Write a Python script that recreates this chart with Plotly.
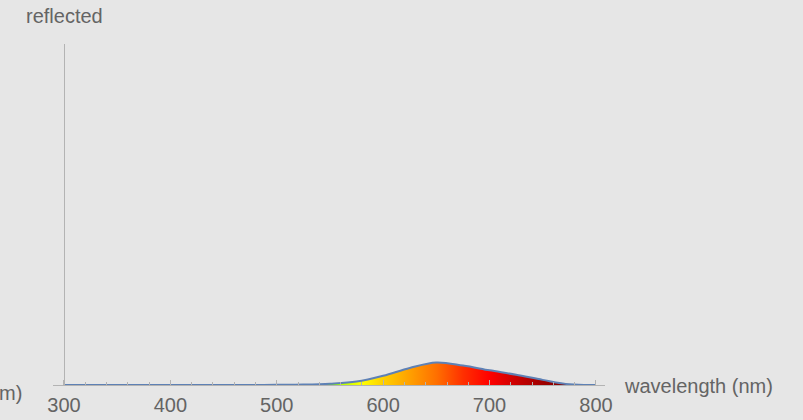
import plotly.graph_objects as go

wavelength = [300, 325, 350, 375, 400, 425, 450, 475, 500, 525, 550, 575, 600,
              625, 650, 675, 700, 725, 750, 775, 800]
reflected = [0, 0, 0, 0, 0, 0, 0, 0, 0.0006, 0.0015, 0.004, 0.010, 0.027,
             0.050, 0.066, 0.057, 0.043, 0.030, 0.015, 0.002, 0.0]

x_ticks = [300, 400, 500, 600, 700, 800]

spectrum = [
    [0.00, "#400060"], [0.16, "#8000ff"], [0.28, "#0000ff"], [0.38, "#00ffff"],
    [0.46, "#00ff00"], [0.52, "#b0ff00"], [0.56, "#ffff00"], [0.60, "#ffd000"],
    [0.65, "#ffa000"], [0.70, "#ff7000"], [0.75, "#ff3000"], [0.80, "#ff0000"],
    [0.86, "#c00000"], [0.92, "#900000"], [1.00, "#700000"],
]

BG = "#e6e6e6"
AX = "#b3b3b3"
TXT = "#646464"
FONT = "Liberation Sans, Arial, sans-serif"

fig = go.Figure()
fig.add_trace(go.Scatter(
    x=wavelength, y=reflected, mode="lines",
    line=dict(color="#5e81b5", width=2, shape="spline"),
    fill="tozeroy",
    fillgradient=dict(type="horizontal", colorscale=spectrum, start=300, stop=800),
    hoverinfo="skip",
))

L, R, T, B = 53, 198, 44, 35
W = 803 - L - R
H = 420 - T - B

fig.update_layout(
    width=803, height=420,
    margin=dict(l=L, r=R, t=T, b=B, pad=0, autoexpand=False),
    paper_bgcolor=BG, plot_bgcolor=BG,
    showlegend=False,
    font=dict(family=FONT, size=20, color=TXT),
    xaxis=dict(
        range=[289.7, 808.5], showgrid=False, zeroline=False,
        showline=True, linecolor=AX, linewidth=1, automargin=False,
        tickmode="array", tickvals=x_ticks, ticks="inside", ticklen=5,
        ticklabelstandoff=2,
        tickcolor=AX, tickfont=dict(size=20, color=TXT, family=FONT),
        minor=dict(dtick=20, tick0=300, ticks="inside", ticklen=3, tickcolor=AX),
        fixedrange=True,
    ),
    yaxis=dict(
        range=[0, 1], showgrid=False, zeroline=False, showticklabels=False,
        showline=True, linecolor=AX, linewidth=1, ticks="", automargin=False,
        anchor="free", position=(64 - L) / W, fixedrange=True,
    ),
    annotations=[
        dict(text="reflected", xref="paper", yref="paper",
             x=(24 - L) / W, y=1 + (44 - 16) / H, xanchor="left", yanchor="middle",
             showarrow=False, font=dict(size=20, color=TXT, family=FONT)),
        dict(text="wavelength (nm)", xref="paper", yref="paper",
             x=(622 - L) / W, y=(385 - 386) / H, xanchor="left", yanchor="middle",
             showarrow=False, font=dict(size=20, color=TXT, family=FONT)),
        dict(text="m)", xref="paper", yref="paper",
             x=(24 - L) / W, y=(385 - 393) / H, xanchor="right", yanchor="middle",
             showarrow=False, font=dict(size=20, color=TXT, family=FONT)),
    ],
)

fig.write_html(
    "out.html",
    config={"displayModeBar": False},
    post_script="document.body.style.margin='0';document.body.style.background='" + BG + "';",
)
